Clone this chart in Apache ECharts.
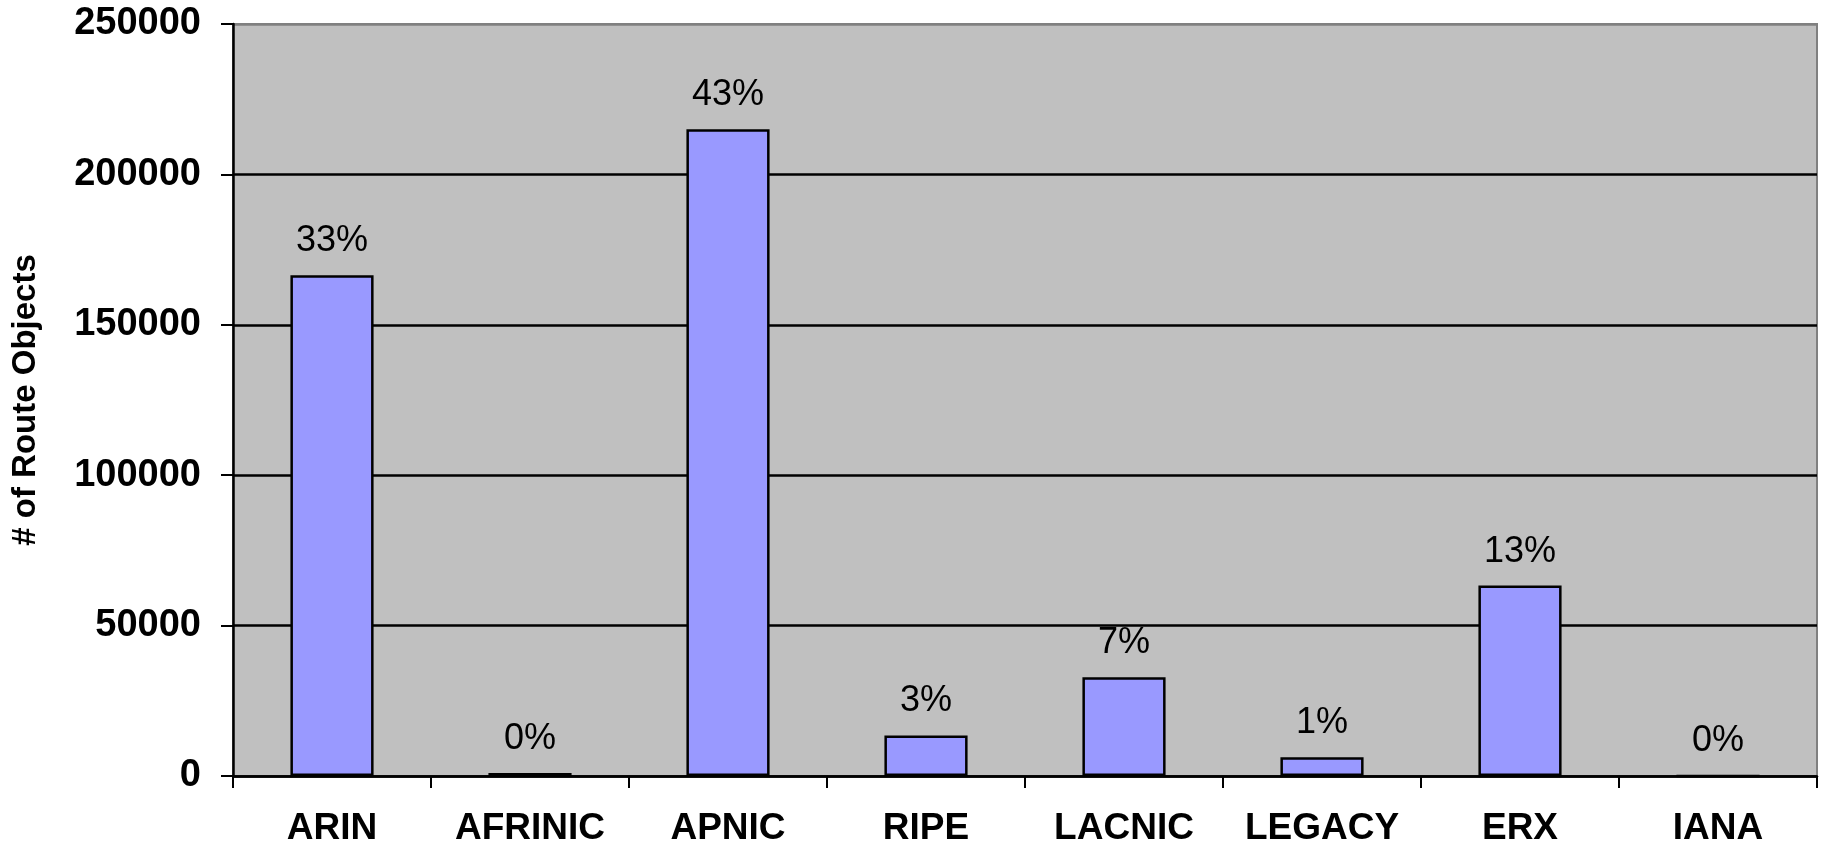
<!DOCTYPE html>
<html>
<head>
<meta charset="utf-8">
<script src="https://cdn.jsdelivr.net/npm/echarts@6/dist/echarts.min.js"></script>
<style>
  html, body { margin: 0; padding: 0; background: #fff; }
  #chart { width: 1823px; height: 842px; }
</style>
</head>
<body>
<div id="chart"></div>
<script>
// registries and route object counts
const registries = ['ARIN', 'AFRINIC', 'APNIC', 'RIPE', 'LACNIC', 'LEGACY', 'ERX', 'IANA']
const routeObjects = [166500, 1000, 215000, 13500, 32800, 6200, 63300, 0]
const shareLabels = ['33%', '0%', '43%', '3%', '7%', '1%', '13%', '0%']

const myChart = echarts.init(document.getElementById('chart'))
let option = {
  animation: false,
  grid: {
    left: 233,
    right: 6,
    top: 24,
    bottom: 66,
    containLabel: false,
    outerBoundsMode: 'none',
    show: true,
    backgroundColor: '#c0c0c0',
    borderColor: '#808080',
    borderWidth: 2
  },
  xAxis: {
    type: 'category',
    data: registries,
    axisLine: { lineStyle: { color: '#000', width: 2.5 } },
    axisTick: { show: true, interval: 0, length: 12, lineStyle: { color: '#000', width: 2 } },
    axisLabel: {
      interval: 0,
      hideOverlap: false,
      margin: 34,
      fontFamily: 'Liberation Sans, Arial, sans-serif',
      fontWeight: 'bold',
      fontSize: 37,
      color: '#000'
    }
  },
  yAxis: {
    type: 'value',
    min: 0,
    max: 250000,
    interval: 50000,
    name: '# of Route Objects',
    nameLocation: 'middle',
    nameGap: 191,
    nameTextStyle: {
      fontFamily: 'Liberation Sans, Arial, sans-serif',
      fontWeight: 'bold',
      fontSize: 33,
      color: '#000'
    },
    axisLine: { show: true, lineStyle: { color: '#000', width: 2.5 } },
    axisTick: { show: true, length: 12, lineStyle: { color: '#000', width: 2 } },
    splitLine: {
      lineStyle: {
        color: ['#000', '#000', '#000', '#000', '#000', '#808080'],
        width: 2.5
      }
    },
    axisLabel: {
      margin: 32,
      fontFamily: 'Liberation Sans, Arial, sans-serif',
      fontWeight: 'bold',
      fontSize: 38,
      color: '#000',
      formatter: function (v) {
        return String(v)
      }
    }
  },
  series: [{
    type: 'bar',
    data: routeObjects,
    barWidth: '42%',
    itemStyle: {
      color: '#9999ff',
      borderColor: '#000',
      borderWidth: 2.5
    },
    label: {
      show: true,
      position: 'top',
      distance: 16,
      fontFamily: 'Liberation Sans, Arial, sans-serif',
      fontSize: 36,
      color: '#000',
      formatter: function (p) {
        return shareLabels[p.dataIndex]
      }
    }
  }]
}
myChart.setOption(option)
window.addEventListener('resize', function () {
  myChart.resize()
})
</script>
</body>
</html>
